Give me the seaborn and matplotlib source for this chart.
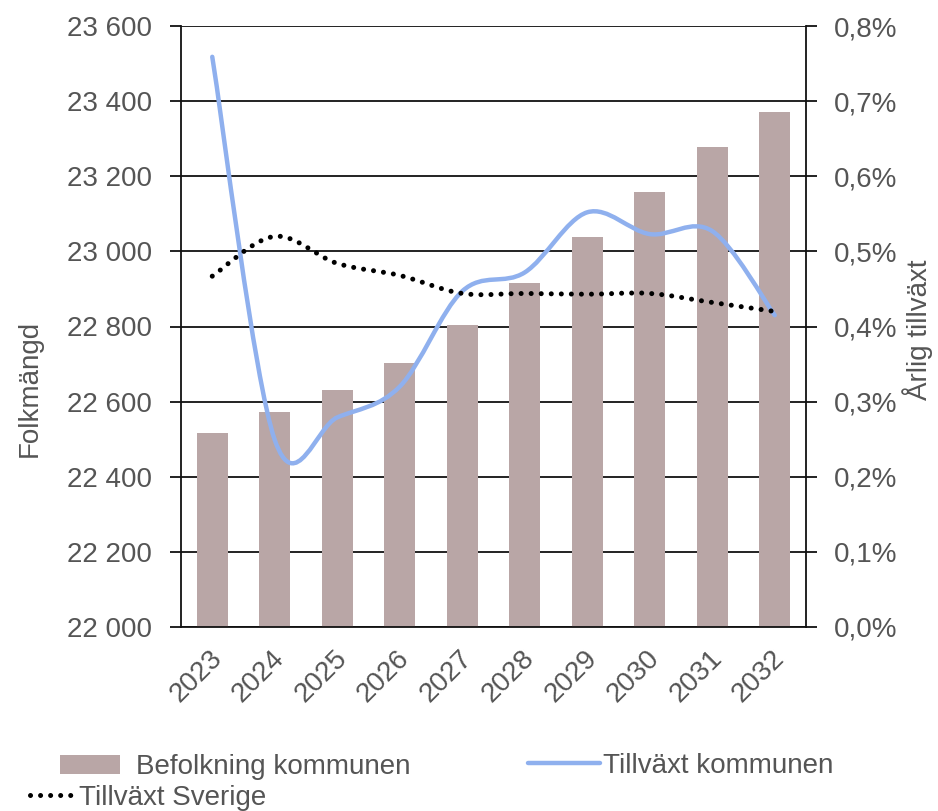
import matplotlib
matplotlib.use("Agg")
import matplotlib.pyplot as plt
import matplotlib.transforms as mtransforms
from matplotlib.path import Path
from matplotlib.patches import PathPatch, Patch
from matplotlib.lines import Line2D
from matplotlib.ticker import FuncFormatter, FixedLocator
import seaborn as sns
import pandas as pd

# data
years = ["2023", "2024", "2025", "2026", "2027", "2028", "2029", "2030", "2031", "2032"]
befolkning = [22517, 22573, 22632, 22704, 22805, 22915, 23037, 23157, 23277, 23371]
tillvaxt_kommun = [0.759, 0.249, 0.279, 0.320, 0.447, 0.472, 0.552, 0.523, 0.527, 0.415]
tillvaxt_sverige = [0.467, 0.520, 0.484, 0.468, 0.444, 0.444, 0.443, 0.444, 0.432, 0.420]

BAR = "#b9a6a6"
BLUE = "#8fb0ee"
TXT = "#555555"
FS = 20


def smooth_path(xs, ys):
    """Excel-style smoothed line as cubic bezier segments through the points."""
    pts = list(zip(xs, ys))
    n = len(pts)
    verts = [pts[0]]
    codes = [Path.MOVETO]
    for i in range(n - 1):
        p0 = pts[max(i - 1, 0)]
        p1 = pts[i]
        p2 = pts[i + 1]
        p3 = pts[min(i + 2, n - 1)]
        c1 = (p1[0] + (p2[0] - p0[0]) / 6, p1[1] + (p2[1] - p0[1]) / 6)
        c2 = (p2[0] - (p3[0] - p1[0]) / 6, p2[1] - (p3[1] - p1[1]) / 6)
        verts += [c1, c2, p2]
        codes += [Path.CURVE4] * 3
    return Path(verts, codes)


df = pd.DataFrame({"year": years, "pop": befolkning})

sns.set_style("white")
plt.rcParams["font.family"] = ["Liberation Sans", "DejaVu Sans"]

fig = plt.figure(figsize=(9.38, 8.11), dpi=100)
ax = fig.add_axes([181 / 938, 1 - 627 / 811, 625 / 938, 601 / 811])

sns.barplot(data=df, x="year", y="pop", color=BAR, width=0.5, saturation=1,
            edgecolor="none", ax=ax, zorder=2)
ax.set_ylim(22000, 23600)
ax.set_xlim(-0.5, 9.5)
ax.set_yticks(range(22000, 23601, 200))
ax.yaxis.set_major_formatter(FuncFormatter(lambda v, p: f"{int(v):,}".replace(",", " ")))
ax.grid(axis="y", color="#222222", linewidth=1.4, zorder=1)
ax.set_axisbelow(True)
ax.set_xlabel("")
ax.set_ylabel("")

for s in ["left", "right", "bottom"]:
    ax.spines[s].set_visible(True)
    ax.spines[s].set_color("#111111")
    ax.spines[s].set_linewidth(1.3)
ax.spines["top"].set_visible(False)

# category boundary ticks on x, labels at bar centres
ax.xaxis.set_major_locator(FixedLocator([i - 0.5 for i in range(11)]))
ax.xaxis.set_major_formatter(FuncFormatter(lambda v, p: ""))
ax.xaxis.set_minor_locator(FixedLocator(list(range(10))))
ax.set_xticklabels([], minor=False)
ax.set_xticks(range(10), labels=years, minor=True)
ax.tick_params(axis="x", which="major", direction="out", length=7, width=1.3, color="#111111")
ax.tick_params(axis="x", which="minor", length=0, pad=20, labelsize=FS, labelcolor=TXT)
offset = mtransforms.ScaledTranslation(6 / 100, 0, fig.dpi_scale_trans)
for lab in ax.get_xticklabels(minor=True):
    lab.set_rotation(45)
    lab.set_ha("right")
    lab.set_va("center")
    lab.set_rotation_mode("anchor")
    lab.set_transform(lab.get_transform() + offset)

ax.tick_params(axis="y", direction="out", length=8, width=1.3, color="#111111",
               pad=13, labelsize=FS, labelcolor=TXT)

ax2 = ax.twinx()
ax2.set_ylim(0, 0.8)
ax2.set_yticks([i / 10 for i in range(9)])
ax2.yaxis.set_major_formatter(FuncFormatter(lambda v, p: f"{v:.1f}%".replace(".", ",")))
ax2.tick_params(axis="y", direction="out", length=8, width=1.3, color="#111111",
                pad=12, labelsize=FS, labelcolor=TXT)
for s in ["left", "right", "bottom", "top"]:
    ax2.spines[s].set_visible(False)
ax2.grid(False)

xs = list(range(len(years)))
ax2.add_patch(PathPatch(smooth_path(xs, tillvaxt_kommun), fill=False,
                        edgecolor=BLUE, linewidth=3.2, capstyle="round", zorder=3))
ax2.add_patch(PathPatch(smooth_path(xs, tillvaxt_sverige), fill=False,
                        edgecolor="black", linewidth=3.6, linestyle=(0, (0.01, 2.0)),
                        capstyle="round", zorder=4))

fig.text(30 / 938, 1 - 388 / 811, "Folkmängd", rotation=90, ha="center", va="center",
         fontsize=FS, color=TXT)
fig.text(918 / 938, 1 - 330 / 811, "Årlig tillväxt", rotation=90, ha="center", va="center",
         fontsize=FS, color=TXT)

# legend, three pieces placed like the reference
leg_kw = dict(frameon=False, fontsize=FS, labelcolor=TXT, borderpad=0, borderaxespad=0,
              loc="center left")
fig.legend(handles=[Patch(facecolor=BAR, edgecolor="none", label="Befolkning kommunen")],
           bbox_to_anchor=(60 / 938, 1 - 767 / 811), handlelength=2.15, handleheight=0.7,
           handletextpad=0.6, **leg_kw)
fig.legend(handles=[Line2D([], [], color=BLUE, linewidth=3.2, label="Tillväxt kommunen")],
           bbox_to_anchor=(528 / 938, 1 - 766 / 811), handlelength=2.6,
           handletextpad=0.1, **leg_kw)
fig.legend(handles=[Line2D([], [], color="black", linewidth=3.6, linestyle=(0, (0.01, 2.0)),
                           dash_capstyle="round", label="Tillväxt Sverige")],
           bbox_to_anchor=(30 / 938, 1 - 798 / 811), handlelength=1.55,
           handletextpad=0.2, **leg_kw)

fig.savefig("out.png", dpi=100)
plt.close(fig)
